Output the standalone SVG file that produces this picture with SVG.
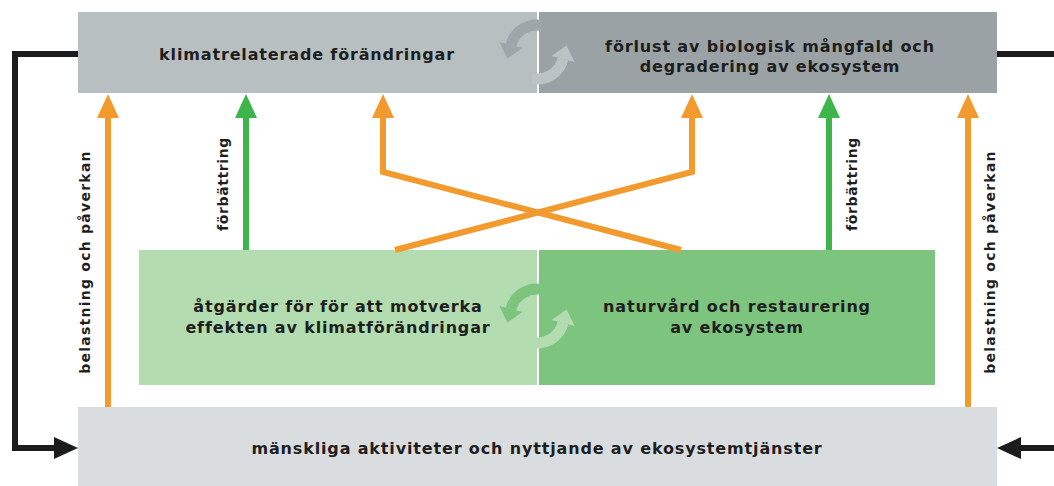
<svg xmlns="http://www.w3.org/2000/svg" width="1054" height="486" viewBox="0 0 1054 486">
<style>
.t{font-family:"DejaVu Sans","Liberation Sans",sans-serif;font-weight:bold;font-size:16px;fill:#1e1e1e;text-anchor:middle;letter-spacing:0.85px}
.v{font-family:"DejaVu Sans","Liberation Sans",sans-serif;font-weight:bold;font-size:14px;fill:#1e1e1e;text-anchor:middle;letter-spacing:0.6px}
.vb{letter-spacing:1.25px}
.or{stroke:#f29a2e;stroke-width:6;fill:none}
.gr{stroke:#3db54a;stroke-width:6;fill:none}
.bk{stroke:#1c1c1c;stroke-width:6;fill:none}
</style>
<defs>
<marker id="ao" markerUnits="userSpaceOnUse" markerWidth="26" markerHeight="22" refX="0" refY="11" orient="auto" viewBox="0 0 26 22"><path d="M0,0 L24,11 L0,22 z" fill="#f29a2e"/></marker>
<marker id="ag" markerUnits="userSpaceOnUse" markerWidth="26" markerHeight="22" refX="0" refY="11" orient="auto" viewBox="0 0 26 22"><path d="M0,0 L24,11 L0,22 z" fill="#3db54a"/></marker>
<marker id="ab" markerUnits="userSpaceOnUse" markerWidth="26" markerHeight="22" refX="0" refY="11" orient="auto" viewBox="0 0 26 22"><path d="M0,0 L24,11 L0,22 z" fill="#1c1c1c"/></marker>
</defs>
<rect width="1054" height="486" fill="#ffffff"/>

<g id="node-klimat">
<rect x="78" y="12" width="459" height="81" fill="#b8bfc1"/>
<text class="t" x="307" y="60">klimatrelaterade förändringar</text>
</g>
<g id="node-biologisk">
<rect x="539" y="12" width="458" height="81" fill="#9aa2a5"/>
<text class="t" x="770" y="52">förlust av biologisk mångfald och</text>
<text class="t" x="770" y="72">degradering av ekosystem</text>
</g>
<g id="cycle-top" transform="translate(537,52)">
<path d="M4.7,-26.6 A27,27 0 0 0 -26.1,-7" stroke="#9ea6a9" stroke-width="11" fill="none"/>
<polygon points="-14.5,-3.9 -37.7,-10.1 -29.7,6.5" fill="#9ea6a9"/>
<path d="M-4.7,26.6 A27,27 0 0 0 26.1,7" stroke="#bcc3c5" stroke-width="11" fill="none"/>
<polygon points="37.7,10.1 14.5,3.9 29.7,-6.5" fill="#bcc3c5"/>
</g>

<g id="node-atgarder">
<rect x="139" y="250" width="398" height="135" fill="#b3dcb1"/>
<text class="t" x="338" y="312">åtgärder för för att motverka</text>
<text class="t" x="338" y="333">effekten av klimatförändringar</text>
</g>
<g id="node-naturvard">
<rect x="539" y="250" width="396" height="135" fill="#7dc47f"/>
<text class="t" x="737" y="312">naturvård och restaurering</text>
<text class="t" x="737" y="333">av ekosystem</text>
</g>
<g id="cycle-green" transform="translate(537,316)">
<path d="M4.7,-26.6 A27,27 0 0 0 -26.1,-7" stroke="#7dc47f" stroke-width="11" fill="none"/>
<polygon points="-14.5,-3.9 -37.7,-10.1 -29.7,6.5" fill="#7dc47f"/>
<path d="M-4.7,26.6 A27,27 0 0 0 26.1,7" stroke="#b3dcb1" stroke-width="11" fill="none"/>
<polygon points="37.7,10.1 14.5,3.9 29.7,-6.5" fill="#b3dcb1"/>
</g>

<g id="node-manskliga">
<rect x="78" y="407" width="919" height="79" fill="#d9dddf"/>
<text class="t" x="537" y="454">mänskliga aktiviteter och nyttjande av ekosystemtjänster</text>
</g>

<g id="connectors">
<path class="or" d="M108,407 V118" marker-end="url(#ao)"/>
<path class="or" d="M968,407 V118" marker-end="url(#ao)"/>
<path class="gr" d="M246,250 V118" marker-end="url(#ag)"/>
<path class="gr" d="M829,250 V118" marker-end="url(#ag)"/>
<path class="or" d="M681,250 L383,172 V118" stroke-linejoin="miter" marker-end="url(#ao)"/>
<path class="or" d="M395,250 L692,172 V118" stroke-linejoin="miter" marker-end="url(#ao)"/>
<path class="bk" d="M78,54 H15 V448 H54" stroke-linejoin="miter" marker-end="url(#ab)"/>
<path class="bk" d="M997,54 H1054"/>
<path class="bk" d="M1054,448 H1021" marker-end="url(#ab)"/>
</g>

<g id="labels">
<text class="v vb" transform="translate(90,262) rotate(-90)">belastning och påverkan</text>
<text class="v vb" transform="translate(995,262) rotate(-90)">belastning och påverkan</text>
<text class="v" transform="translate(228,184) rotate(-90)">förbättring</text>
<text class="v" transform="translate(857,184) rotate(-90)">förbättring</text>
</g>
</svg>
